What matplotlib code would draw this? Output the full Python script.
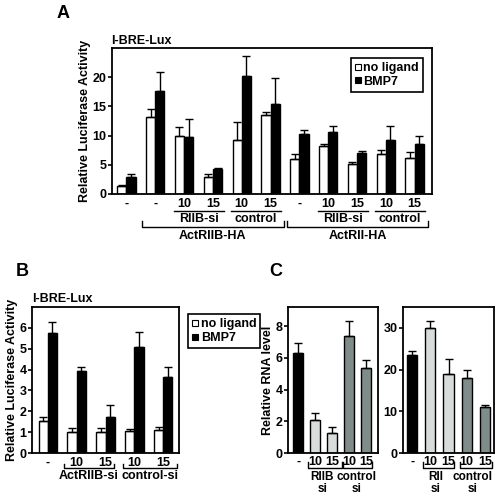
import matplotlib
matplotlib.use("Agg")
import matplotlib.pyplot as plt
from matplotlib.lines import Line2D
import numpy as np

plt.rcParams['font.family'] = ['Liberation Sans', 'DejaVu Sans']
plt.rcParams['font.weight'] = 'bold'
plt.rcParams['axes.labelweight'] = 'bold'

# panel A - luciferase, ActRIIB-HA / ActRII-HA
a_ticks = ["-", "-", "10", "15", "10", "15", "-", "10", "15", "10", "15"]
a_noligand = [1.3, 13.2, 9.9, 2.95, 9.2, 13.5, 6.0, 8.2, 5.2, 6.9, 6.1]
a_noligand_err = [0.3, 1.3, 1.6, 0.55, 3.1, 0.6, 0.8, 0.3, 0.3, 0.7, 1.1]
a_bmp7 = [2.85, 17.7, 9.8, 4.2, 20.2, 15.45, 10.2, 10.7, 7.05, 9.2, 8.5]
a_bmp7_err = [0.5, 3.2, 3.0, 0.3, 3.5, 4.45, 0.7, 1.0, 0.25, 2.4, 1.4]

# panel B - luciferase, siRNA
b_ticks = ["-", "10", "15", "10", "15"]
b_noligand = [1.55, 1.03, 1.0, 1.06, 1.11]
b_noligand_err = [0.2, 0.19, 0.19, 0.1, 0.13]
b_bmp7 = [5.76, 3.94, 1.75, 5.1, 3.65]
b_bmp7_err = [0.53, 0.19, 0.54, 0.68, 0.48]

# panel C - relative RNA level
c_ticks = ["-", "10", "15", "10", "15"]
c_riib = [6.32, 2.05, 1.26, 7.39, 5.34]
c_riib_err = [0.63, 0.48, 0.37, 0.94, 0.52]
c_rii = [23.6, 30.0, 19.0, 18.0, 11.0]
c_rii_err = [0.8, 1.6, 3.5, 2.0, 0.6]
c_colors = ["black", "#d8dddc", "#d8dddc", "#7f8c8a", "#7f8c8a"]

W, H = 495, 498
FS = 9
fig = plt.figure(figsize=(W / 100, H / 100), dpi=100)


def rect(x0, y0, x1, y1):
    return [x0 / W, 1 - y1 / H, (x1 - x0) / W, (y1 - y0) / H]


def px(x, y):
    return x / W, 1 - y / H


def style(ax, ylim, yticks):
    ax.set_ylim(*ylim)
    ax.set_yticks(yticks)
    for s in ax.spines.values():
        s.set_linewidth(1.3)
    ax.tick_params(axis='y', length=3, width=1.2, labelsize=FS, pad=1)
    ax.tick_params(axis='x', length=0, labelsize=FS, pad=3)


def boldticks(ax):
    for t in ax.get_xticklabels() + ax.get_yticklabels():
        t.set_fontweight('bold')


def line(ax, xs, ys):
    ax.plot(xs, ys, color='black', lw=1, transform=ax.get_xaxis_transform(),
            clip_on=False)


def bracket(ax, x0, x1, y, up):
    line(ax, [x0, x0, x1, x1], [y + up, y, y, y + up])


ekw = dict(elinewidth=1, capthick=1)
handles = [Line2D([], [], marker='s', ls='none', ms=5, mfc='white', mec='black', mew=0.8),
           Line2D([], [], marker='s', ls='none', ms=5, mfc='black', mec='black', mew=0.8)]
legkw = dict(fontsize=FS, handlelength=0.5, handletextpad=0.2, borderpad=0.3,
             labelspacing=0.15, fancybox=False, edgecolor='black', framealpha=1)

# ---- A ----
axA = fig.add_axes(rect(112, 48, 432, 194))
x = np.arange(len(a_ticks))
w = 0.32
axA.bar(x - w / 2, a_noligand, w, color='white', edgecolor='black', lw=1,
        yerr=[np.zeros(len(x)), a_noligand_err], capsize=3, error_kw=ekw)
axA.bar(x + w / 2, a_bmp7, w, color='black', edgecolor='black', lw=1,
        yerr=[np.zeros(len(x)), a_bmp7_err], capsize=3, error_kw=ekw)
axA.set_xlim(-0.5, 10.6)
style(axA, (0, 25), [0, 5, 10, 15, 20])
axA.set_xticks(x, a_ticks)
boldticks(axA)
axA.set_ylabel("Relative Luciferase Activity", fontsize=FS, labelpad=1)
for x0, x1, lab in [(1.65, 3.39, "RIIB-si"), (3.62, 5.35, "control"),
                    (6.65, 8.39, "RIIB-si"), (8.62, 10.35, "control")]:
    line(axA, [x0, x1], [-0.116, -0.116])
    axA.text((x0 + x1) / 2, -0.168, lab, transform=axA.get_xaxis_transform(),
             ha='center', va='center', fontsize=FS)
for x0, x1, lab in [(0.55, 5.45, "ActRIIB-HA"), (5.58, 10.47, "ActRII-HA")]:
    bracket(axA, x0, x1, -0.226, 0.04)
    axA.text((x0 + x1) / 2, -0.29, lab, transform=axA.get_xaxis_transform(),
             ha='center', va='center', fontsize=FS)
legA = fig.legend(handles, ["no ligand", "BMP7"], loc='upper right',
                  bbox_to_anchor=px(429, 52), **legkw)
legA.get_frame().set_linewidth(1.2)
fig.text(*px(111, 41), "I-BRE-Lux", fontsize=FS, ha='left', va='center')
fig.text(*px(63, 13), "A", fontsize=13, ha='center', va='center')

# ---- B ----
axB = fig.add_axes(rect(32, 307, 179, 453))
x = np.arange(len(b_ticks))
axB.bar(x - w / 2, b_noligand, w, color='white', edgecolor='black', lw=1,
        yerr=[np.zeros(len(x)), b_noligand_err], capsize=3, error_kw=ekw)
axB.bar(x + w / 2, b_bmp7, w, color='black', edgecolor='black', lw=1,
        yerr=[np.zeros(len(x)), b_bmp7_err], capsize=3, error_kw=ekw)
axB.set_xlim(-0.55, 4.55)
style(axB, (0, 7), range(7))
axB.set_xticks(x, b_ticks)
boldticks(axB)
axB.set_ylabel("Relative Luciferase Activity", fontsize=FS, labelpad=1)
for x0, x1, lab in [(0.56, 2.3, "ActRIIB-si"), (2.61, 4.48, "control-si")]:
    bracket(axB, x0, x1, -0.103, 0.03)
    axB.text((x0 + x1) / 2, -0.16, lab, transform=axB.get_xaxis_transform(),
             ha='center', va='center', fontsize=FS)
legB = fig.legend(handles, ["no ligand", "BMP7"], loc='upper left',
                  bbox_to_anchor=px(182, 308), **legkw)
legB.get_frame().set_linewidth(1.2)
fig.text(*px(32, 299), "I-BRE-Lux", fontsize=FS, ha='left', va='center')
fig.text(*px(22, 272), "B", fontsize=13, ha='center', va='center')

# ---- C ----
axC1 = fig.add_axes(rect(288, 307, 378, 453))
axC2 = fig.add_axes(rect(403, 307, 494, 453))
x = np.arange(len(c_ticks))
axC1.bar(x, c_riib, 0.6, color=c_colors, edgecolor='black', lw=1,
         yerr=[np.zeros(len(x)), c_riib_err], capsize=3, error_kw=ekw)
axC2.bar(x, c_rii, 0.55, color=c_colors, edgecolor='black', lw=1,
         yerr=[np.zeros(len(x)), c_rii_err], capsize=3, error_kw=ekw)
axC1.set_xlim(-0.6, 4.7)
axC2.set_xlim(-0.5, 4.5)
style(axC1, (0, 9.2), [0, 2, 4, 6, 8])
style(axC2, (0, 35), [0, 10, 20, 30])
for ax in (axC1, axC2):
    ax.set_xticks(x, c_ticks)
    ax.tick_params(axis='x', pad=2)
    boldticks(ax)
axC1.set_ylabel("Relative RNA level", fontsize=FS, labelpad=1)
for ax, spans in [(axC1, [(0.6, 2.56, 1.43, "RIIB\nsi"), (2.62, 4.35, 3.46, "control\nsi")]),
                  (axC2, [(0.6, 2.3, 1.31, "RII\nsi"), (2.62, 4.39, 3.3, "control\nsi")])]:
    for x0, x1, xc, lab in spans:
        bracket(ax, x0, x1, -0.1, 0.035)
        ax.text(xc, -0.205, lab, transform=ax.get_xaxis_transform(),
                ha='center', va='center', fontsize=8.5, linespacing=1.0)
fig.text(*px(276, 272), "C", fontsize=13, ha='center', va='center')

fig.savefig("out.png", dpi=100)
